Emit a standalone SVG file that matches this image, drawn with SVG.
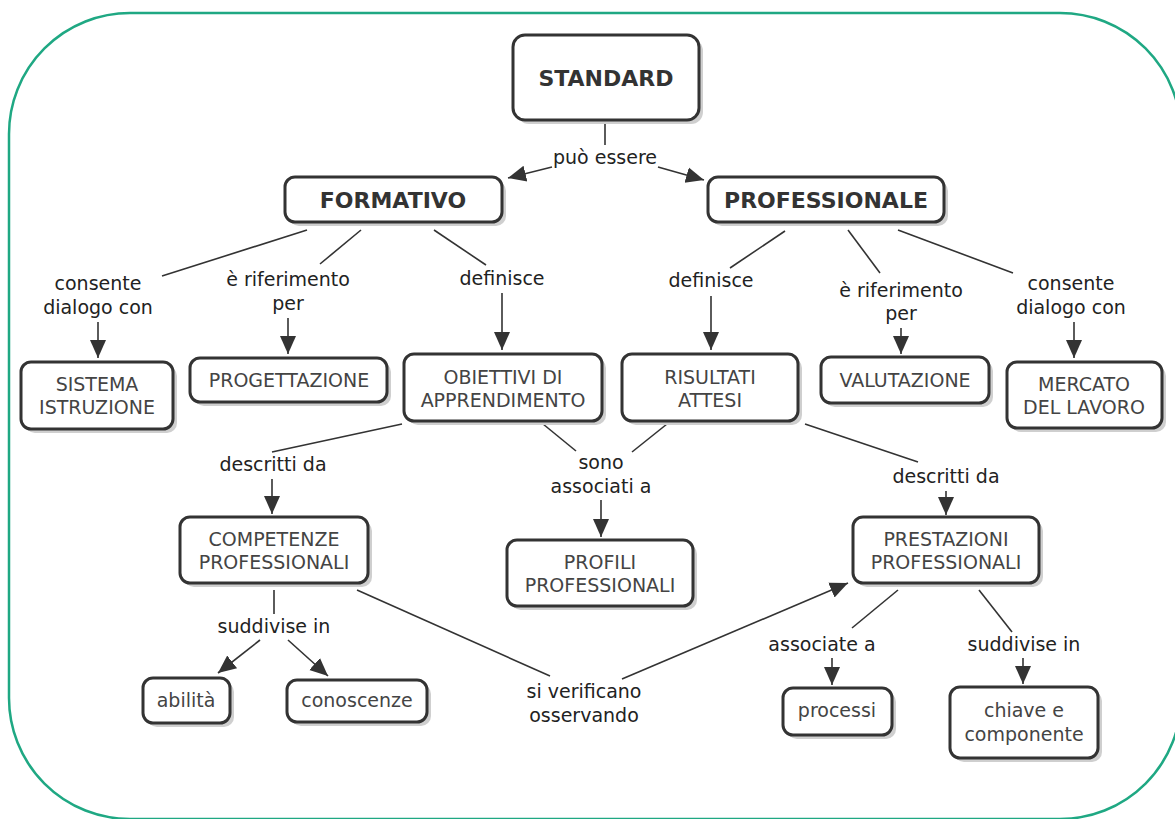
<svg xmlns="http://www.w3.org/2000/svg" width="1175" height="819" viewBox="0 0 1175 819">
<style>
.frame{fill:#fff;stroke:#1fa883;stroke-width:2.5}
.box{fill:#fff;stroke:#333;stroke-width:3}
.sh{fill:#cfcfcf}
.nt{font-family:"DejaVu Sans",Verdana,sans-serif;font-size:19px;fill:#444;text-anchor:middle}
.bt{font-family:"DejaVu Sans",Verdana,sans-serif;font-size:22px;font-weight:bold;fill:#333;text-anchor:middle}
.lt{font-family:"DejaVu Sans",Verdana,sans-serif;font-size:19px;fill:#222;text-anchor:middle}
.ln{stroke:#333;stroke-width:1.6;fill:none}
.ar{stroke:#333;stroke-width:1.6;fill:none;marker-end:url(#ah)}
</style>
<defs>
<marker id="ah" markerUnits="userSpaceOnUse" markerWidth="20" markerHeight="20" viewBox="0 0 20 20" refX="18" refY="10" orient="auto">
<path d="M0,2 L18,10 L0,18 Z" fill="#333"/>
</marker>
</defs>
<rect class="frame" x="9" y="13" width="1172" height="806" rx="121" ry="121"/>

<g id="connectors">
<line class="ln" x1="605" y1="124" x2="605" y2="145"/>
<text class="lt" x="605" y="164">può essere</text>
<line class="ar" x1="552" y1="167" x2="508" y2="178"/>
<line class="ar" x1="658" y1="167" x2="704" y2="180"/>

<line class="ln" x1="307" y1="230" x2="162" y2="276"/>
<text class="lt" x="98" y="290">consente</text>
<text class="lt" x="98" y="314">dialogo con</text>
<line class="ar" x1="98" y1="322" x2="98" y2="358"/>

<line class="ln" x1="361" y1="230" x2="320" y2="264"/>
<text class="lt" x="288" y="286">è riferimento</text>
<text class="lt" x="288" y="310">per</text>
<line class="ar" x1="288" y1="318" x2="288" y2="354"/>

<line class="ln" x1="434" y1="230" x2="486" y2="265"/>
<text class="lt" x="502" y="285">definisce</text>
<line class="ar" x1="502" y1="293" x2="502" y2="350"/>

<line class="ln" x1="785" y1="231" x2="730" y2="268"/>
<text class="lt" x="711" y="287">definisce</text>
<line class="ar" x1="711" y1="296" x2="711" y2="350"/>

<line class="ln" x1="848" y1="230" x2="880" y2="273"/>
<text class="lt" x="901" y="297">è riferimento</text>
<text class="lt" x="901" y="320">per</text>
<line class="ar" x1="901" y1="328" x2="901" y2="354"/>

<line class="ln" x1="898" y1="230" x2="1013" y2="273"/>
<text class="lt" x="1071" y="290">consente</text>
<text class="lt" x="1071" y="314">dialogo con</text>
<line class="ar" x1="1074" y1="322" x2="1074" y2="358"/>

<line class="ln" x1="402" y1="424" x2="272" y2="452"/>
<text class="lt" x="273" y="471">descritti da</text>
<line class="ar" x1="272" y1="479" x2="272" y2="514"/>

<line class="ln" x1="543" y1="424" x2="576" y2="451"/>
<line class="ln" x1="667" y1="424" x2="632" y2="452"/>
<text class="lt" x="601" y="469">sono</text>
<text class="lt" x="601" y="493">associati a</text>
<line class="ar" x1="601" y1="500" x2="601" y2="537"/>

<line class="ln" x1="805" y1="424" x2="918" y2="462"/>
<text class="lt" x="946" y="483">descritti da</text>
<line class="ar" x1="946" y1="491" x2="946" y2="515"/>

<line class="ln" x1="274" y1="590" x2="274" y2="614"/>
<text class="lt" x="274" y="633">suddivise in</text>
<line class="ar" x1="260" y1="640" x2="218" y2="673"/>
<line class="ar" x1="288" y1="640" x2="328" y2="676"/>

<line class="ln" x1="357" y1="590" x2="550" y2="676"/>
<text class="lt" x="584" y="698">si verificano</text>
<text class="lt" x="584" y="722">osservando</text>
<line class="ar" x1="622" y1="679" x2="848" y2="583"/>

<line class="ln" x1="898" y1="590" x2="852" y2="628"/>
<text class="lt" x="822" y="651">associate a</text>
<line class="ar" x1="832" y1="658" x2="832" y2="685"/>

<line class="ln" x1="979" y1="590" x2="1012" y2="632"/>
<text class="lt" x="1024" y="651">suddivise in</text>
<line class="ar" x1="1023" y1="658" x2="1023" y2="684"/>
</g>

<g id="standard">
<rect class="sh" x="517" y="39" width="186" height="85" rx="12"/>
<rect class="box" x="513" y="35" width="186" height="85" rx="12"/>
<text class="bt" x="606" y="86">STANDARD</text>
</g>
<g id="formativo">
<rect class="sh" x="289" y="181" width="217" height="45" rx="10"/>
<rect class="box" x="285" y="177" width="217" height="45" rx="10"/>
<text class="bt" x="393" y="208">FORMATIVO</text>
</g>
<g id="professionale">
<rect class="sh" x="712" y="181" width="236" height="45" rx="10"/>
<rect class="box" x="708" y="177" width="236" height="45" rx="10"/>
<text class="bt" x="826" y="208">PROFESSIONALE</text>
</g>
<g id="sistema-istruzione">
<rect class="sh" x="25" y="366" width="152" height="67" rx="10"/>
<rect class="box" x="21" y="362" width="152" height="67" rx="10"/>
<text class="nt" x="97" y="391">SISTEMA</text>
<text class="nt" x="97" y="414">ISTRUZIONE</text>
</g>
<g id="progettazione">
<rect class="sh" x="194" y="362" width="197" height="44" rx="10"/>
<rect class="box" x="190" y="358" width="197" height="44" rx="10"/>
<text class="nt" x="289" y="387">PROGETTAZIONE</text>
</g>
<g id="obiettivi">
<rect class="sh" x="408" y="358" width="198" height="67" rx="10"/>
<rect class="box" x="404" y="354" width="198" height="67" rx="10"/>
<text class="nt" x="503" y="384">OBIETTIVI DI</text>
<text class="nt" x="503" y="407">APPRENDIMENTO</text>
</g>
<g id="risultati">
<rect class="sh" x="626" y="358" width="176" height="67" rx="10"/>
<rect class="box" x="622" y="354" width="176" height="67" rx="10"/>
<text class="nt" x="710" y="384">RISULTATI</text>
<text class="nt" x="710" y="407">ATTESI</text>
</g>
<g id="valutazione">
<rect class="sh" x="825" y="361" width="168" height="46" rx="10"/>
<rect class="box" x="821" y="357" width="168" height="46" rx="10"/>
<text class="nt" x="905" y="387">VALUTAZIONE</text>
</g>
<g id="mercato">
<rect class="sh" x="1011" y="366" width="155" height="66" rx="10"/>
<rect class="box" x="1007" y="362" width="155" height="66" rx="10"/>
<text class="nt" x="1084" y="391">MERCATO</text>
<text class="nt" x="1084" y="414">DEL LAVORO</text>
</g>
<g id="competenze">
<rect class="sh" x="184" y="521" width="188" height="66" rx="10"/>
<rect class="box" x="180" y="517" width="188" height="66" rx="10"/>
<text class="nt" x="274" y="546">COMPETENZE</text>
<text class="nt" x="274" y="569">PROFESSIONALI</text>
</g>
<g id="profili">
<rect class="sh" x="511" y="544" width="186" height="66" rx="10"/>
<rect class="box" x="507" y="540" width="186" height="66" rx="10"/>
<text class="nt" x="600" y="569">PROFILI</text>
<text class="nt" x="600" y="592">PROFESSIONALI</text>
</g>
<g id="prestazioni">
<rect class="sh" x="857" y="521" width="186" height="66" rx="10"/>
<rect class="box" x="853" y="517" width="186" height="66" rx="10"/>
<text class="nt" x="946" y="546">PRESTAZIONI</text>
<text class="nt" x="946" y="569">PROFESSIONALI</text>
</g>
<g id="abilita">
<rect class="sh" x="147" y="682" width="87" height="45" rx="10"/>
<rect class="box" x="143" y="678" width="87" height="45" rx="10"/>
<text class="nt" x="186" y="707">abilità</text>
</g>
<g id="conoscenze">
<rect class="sh" x="291" y="684" width="140" height="42" rx="10"/>
<rect class="box" x="287" y="680" width="140" height="42" rx="10"/>
<text class="nt" x="357" y="707">conoscenze</text>
</g>
<g id="processi">
<rect class="sh" x="787" y="692" width="109" height="47" rx="10"/>
<rect class="box" x="783" y="688" width="109" height="47" rx="10"/>
<text class="nt" x="837" y="717">processi</text>
</g>
<g id="chiave">
<rect class="sh" x="954" y="691" width="148" height="71" rx="10"/>
<rect class="box" x="950" y="687" width="148" height="71" rx="10"/>
<text class="nt" x="1024" y="717">chiave e</text>
<text class="nt" x="1024" y="741">componente</text>
</g>
</svg>
